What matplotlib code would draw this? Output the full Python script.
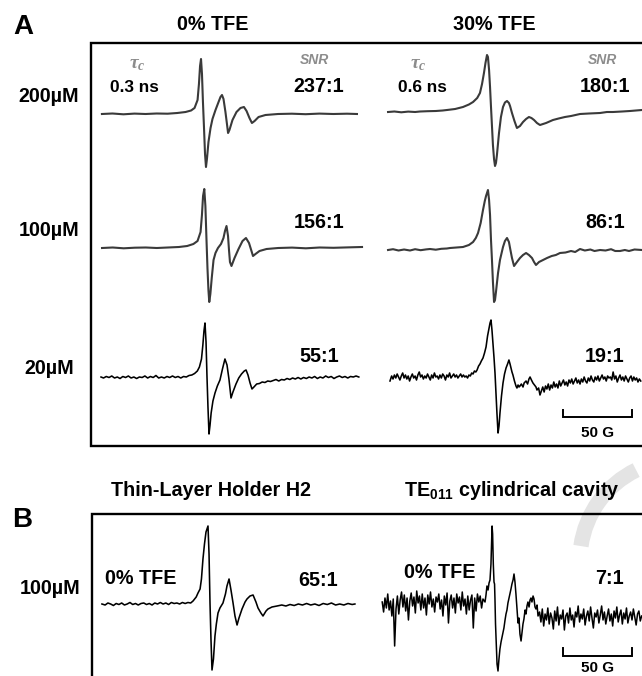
import matplotlib
matplotlib.use('Agg')
import matplotlib.pyplot as plt
from matplotlib.patches import Arc

# ---------------- data ----------------
CONC_A = ['200\u00b5M', '100\u00b5M', '20\u00b5M']
CONC_B = '100\u00b5M'
COL_A = ['0% TFE', '30% TFE']
COL_B = ['Thin-Layer Holder H2', r'TE$_{011}$ cylindrical cavity']
TAU_C = ['0.3 ns', '0.6 ns']
SNR_0 = ['237:1', '156:1', '55:1']
SNR_30 = ['180:1', '86:1', '19:1']
SNR_B = ['65:1', '7:1']
SCALE_G = 50  # Gauss

# traces: (field offset from centre line in G, signal in a.u.)
A1 = [(-73.6, 0), (-66, 0.5), (-58, -0.3), (-50, 0.4), (-42, 0), (-34, 0.5), (-26, 0.3), (-19, 1), (-13, 2),
      (-9, 3.5), (-6.5, 6), (-4.3, 14), (-3.3, 30), (-2.5, 48), (-1.8, 55), (-1.1, 40), (-0.4, 12), (0.4, -15),
      (1.1, -40), (1.8, -53), (2.5, -45), (3.6, -28), (5.1, -14), (6.5, -5), (8.7, 4), (10.9, 12), (12.3, 17),
      (13.4, 19), (14.5, 15), (15.9, 2), (17.0, -10), (17.8, -19), (18.8, -16), (21.0, -6), (23.9, 2), (26.8, 6),
      (29.3, 7), (31.2, 3), (33.3, -4), (35.1, -9), (37.0, -7), (39.9, -3), (44.9, -1), (54, 0), (64, 0.3),
      (74, -0.2), (84, 0.4), (94, 0), (104, 0.3), (111.2, 0)]
A2 = [(-75.7, 0), (-68, 0.5), (-60, -0.3), (-52, 0.3), (-44, 0.5), (-36, 0), (-28, 0.5), (-20, 1), (-14, 2),
      (-9.5, 4), (-6.5, 7), (-4.3, 16), (-3.3, 33), (-2.5, 52), (-1.6, 59), (-0.8, 42), (0, 8), (0.7, -20),
      (1.4, -42), (2.0, -54), (2.8, -46), (3.8, -30), (5.1, -12), (6.5, -5), (8.3, 0), (10.5, 4), (12.3, 10),
      (13.4, 17), (14.5, 22), (15.6, 12), (16.3, -2), (17.0, -14), (18.1, -18), (20.3, -10), (23.2, -1),
      (26.1, 7), (28.6, 10), (30.8, 5), (32.6, -3), (33.7, -8), (35.5, -6), (38.4, -3), (43.5, -1), (52, 0),
      (62, 0.4), (72, -0.3), (82, 0.5), (92, 0.2), (102, 0.6), (112.7, 1)]
A3 = [(-76.8, 0), (-75, -1), (-73, 0.5), (-71, -0.5), (-69, 1), (-67, -1), (-65, 0), (-63, -1.5), (-61, 0.5),
      (-59, -0.5), (-57, 1), (-55, -1), (-53, 0), (-51, -1.5), (-49, 0), (-47, -0.5), (-45, 1), (-43, -1),
      (-41, 0.5), (-39, -0.5), (-37, 1.5), (-35, -1), (-33, 0), (-31, -1), (-29, 0.5), (-27, -0.5), (-25, 1),
      (-23, -0.5), (-21, 0.5), (-19, -1), (-17, 0.5), (-15, 0), (-13, 1.5), (-11, 2), (-9, 3.5), (-7, 6),
      (-5.5, 10), (-4, 18), (-3, 32), (-2.2, 46), (-1.45, 54), (-0.7, 35), (0, 0), (0.7, -30), (1.45, -57),
      (2.2, -48), (3, -36), (4.3, -24), (5.8, -16), (7.5, -9), (9.4, -3), (11.2, 8), (13.0, 18), (14.5, 12),
      (15.9, -2), (17.4, -21), (18.8, -15), (21, -7), (23, -1), (25, 3), (27, 6), (28.3, 7), (29.7, 2),
      (31.2, -6), (32.6, -12), (34, -10), (36, -7), (38, -6.5), (40, -5), (42, -5.5), (44, -4), (46, -4.5),
      (48, -3.5), (50, -2.5), (52, -4), (54, -2.5), (56, -3), (58, -1.5), (60, -2.5), (62, -1), (64, -2),
      (66, -0.5), (68, -2), (70, -0.5), (72, -1.5), (74, 0), (76, -1), (78, 0.5), (80, -1.5), (82, 0), (84, -1),
      (86, 1), (88, -0.5), (90, 0.5), (92, -1.5), (94, 0), (96, 1), (98, -0.5), (100, 0.5), (102, -1),
      (104, 0.5), (106, 0), (108, 1), (110, 0)]
A4 = [(-74.6, 0), (-70, 0.5), (-65, -0.3), (-60, 0.4), (-55, 0), (-51.4, 0.5), (-46, 0.8), (-40, 1), (-35, 1.5),
      (-31.9, 2), (-26, 3), (-20.3, 5), (-16, 7.5), (-13.0, 10), (-10, 14), (-8.0, 19), (-6.5, 28), (-5.1, 39),
      (-4, 49), (-2.9, 57), (-2.2, 55), (-1.4, 42), (-0.7, 25), (0, 5), (0.7, -14), (1.4, -33), (2.2, -47),
      (2.9, -54), (3.6, -51), (4.3, -43), (5.8, -21), (7.2, -5), (8.7, 5), (10.1, 9.5), (11.6, 11), (13.0, 9),
      (13.8, 6), (15.2, -1), (17, -9), (18.8, -16), (21.0, -14), (23.2, -10), (25.4, -7), (27.5, -5),
      (29.3, -6), (31.2, -8), (33.3, -11), (35.5, -13), (37.7, -12), (39.9, -11), (44.9, -8), (49, -6.5),
      (53.6, -5), (58, -4), (64.5, -2), (71, -1.5), (79.0, -1), (84, 0), (88.4, 0), (95, 0.5), (100.7, 1),
      (105, 1.5), (109.4, 2)]
A5 = [(-74.6, 0), (-71, 0.8), (-67, -0.5), (-63, 0.5), (-58.7, -0.5), (-55, 0.8), (-51, -0.2), (-47, 0.6),
      (-44.2, 1), (-40, 0.3), (-36, 1.2), (-32, 1.5), (-29.7, 2), (-25, 2.5), (-20.3, 3), (-16, 5), (-13.0, 8),
      (-11, 12), (-9.4, 17), (-7.5, 27), (-5.8, 40), (-4.5, 49), (-3.6, 54), (-2.2, 60), (-1.4, 50), (-0.7, 35),
      (0, 10), (0.7, -10), (1.4, -32), (2.2, -52), (2.9, -50), (3.6, -42), (5.1, -23), (6.5, -10), (8.7, 3),
      (10.1, 9), (11.6, 12), (13.0, 8), (13.8, 2), (15.2, -8), (16.7, -16), (18.8, -12), (21.0, -8), (23.2, -5),
      (25.4, -3), (27.5, -5), (29.7, -8), (31.2, -12), (32.6, -15), (34.8, -12), (37.7, -10), (40.6, -8),
      (44, -6), (47, -5), (50.0, -3), (54, -2.5), (58, -1), (61, -2), (64.5, 1), (68, -0.5), (72, 0.5), (75, -1),
      (79.0, 0), (83, -0.5), (87, 0.8), (90, -1), (93.5, -1), (97, 0), (100, -1), (104, 0.5), (109.4, 0)]
A6 = [(-73.2, -3), (-72, 2), (-71, -1), (-70, 3), (-69, 0), (-68, 4), (-67, 1), (-66, -2), (-65, 2), (-64, 5),
      (-63, 0), (-62, 3), (-61, -1), (-60, 2), (-59, -3), (-58, 1), (-57, 4), (-56, 0), (-55, 2), (-54, -2),
      (-53, 3), (-52, 6), (-51, 1), (-50, 3), (-49, -1), (-48, 2), (-47, 0), (-46, 4), (-45, 1), (-44, -2),
      (-43, 3), (-42, 0), (-41, 5), (-40, 1), (-39, 2), (-38, -1), (-37, 3), (-36, 0), (-35, 4), (-34, 2),
      (-33, -2), (-32, 3), (-31, 1), (-30, 5), (-29, 0), (-28, 2), (-27, 4), (-26, 1), (-25, 3), (-24, 0),
      (-23, 2), (-22, 4), (-21, 1), (-20, 3), (-19, 1), (-18, 2), (-17, 0), (-16, 3), (-15, 2), (-14, 5),
      (-13, 4), (-12, 7), (-11, 6), (-10.1, 8), (-9, 12), (-8.0, 14), (-7, 17), (-5.8, 20), (-4.7, 25),
      (-3.6, 31), (-2.5, 42), (-1.4, 50), (-0.7, 55), (0, 58), (0.7, 48), (1.4, 35), (2.2, 20), (2.9, 5),
      (3.6, -15), (4.3, -35), (5.1, -55), (5.8, -48), (6.5, -35), (7.6, -18), (8.7, -5), (9.8, 4), (10.9, 10),
      (12, 14), (13.0, 18), (13.8, 14), (14.5, 10), (15.2, 6), (15.9, 3), (17, -3), (18.1, -8), (18.8, -10),
      (19.6, -7), (20.3, -9), (21.0, -8), (22, -6), (23.2, -9), (24, -5), (25.4, -3), (26.5, -6), (27.5, -1),
      (28.3, 1), (29.3, -2), (30.4, -5), (31.5, -7), (32.6, -9), (33.3, -12), (34.5, -10), (35.5, -17),
      (36.5, -13), (37.5, -9), (38.5, -14), (39.5, -8), (40.5, -11), (41.5, -6), (42.5, -12), (43.5, -7),
      (44.5, -10), (45.5, -4), (46.5, -9), (47.5, -6), (48.5, -10), (49.5, -3), (50.5, -8), (51.5, -5),
      (52.5, -2), (53.5, -7), (54.5, -4), (55.5, -8), (56.5, -2), (57.5, -5), (58.5, -1), (59.5, -6),
      (60.5, -3), (61.5, 0), (62.5, -5), (63.5, -2), (64.5, -6), (65.5, -1), (66.5, -4), (67.5, 1), (68.5, -3),
      (69.5, -5), (70.5, 0), (71.5, -3), (72.5, 2), (73.5, -2), (74.5, -4), (75.5, 1), (76.5, -2), (77.5, 2),
      (78.5, -3), (79.5, 0), (80.5, 3), (81.5, -1), (82.5, 1), (83.5, -3), (84.5, 2), (85.5, 0), (86.5, 1),
      (87.5, -2), (88.5, 6), (89.5, -1), (90.5, 2), (91.5, -4), (92.5, 0), (93.5, 3), (94.5, -2), (95.5, 1),
      (96.5, -3), (97.5, 2), (98.5, -1), (99.5, -4), (100.5, 0), (101.5, 2), (102.5, -3), (103.5, 1),
      (104.5, -2), (105.5, 0), (106.5, -4), (107.5, -1), (108.5, -3)]
B1 = [(-78.3, 0), (-76, -1), (-74, 1), (-72, 0), (-70, -1.5), (-68, 0.5), (-66, -0.5), (-64, 1), (-62, -1),
      (-60, 0), (-58, 1.5), (-56, -0.5), (-54, 0.5), (-52, -1), (-50, 0.5), (-48, 1), (-46, -0.5), (-44, 0.5),
      (-42, -1), (-40, 1), (-38, 0), (-36, 1.5), (-34, 0), (-32, 1), (-30, -0.5), (-28, 1.5), (-26, 0.5),
      (-24, 1), (-22, 0), (-20, 1.5), (-18, 0.5), (-16, 1.5), (-14, 1), (-12.3, 3), (-10, 7), (-8.7, 11),
      (-7.2, 15), (-6.2, 25), (-5.1, 45), (-4, 60), (-2.9, 72), (-1.45, 78), (-0.7, 50), (0, 1), (0.7, -35),
      (1.45, -66), (2.5, -55), (3.6, -32), (4.6, -20), (5.8, -9), (7.2, -4), (9.4, 1), (11.2, 10), (12.3, 18),
      (13.8, 25), (15.2, 14), (16.7, 1), (18.1, -12), (19.6, -21), (21, -14), (23.2, -5), (25.4, 2), (26.8, 5),
      (29, 8), (31.2, 9), (33.3, 2), (34.8, -4), (36.9, -9), (38.4, -12), (40.6, -7), (42, -5), (44.9, -3),
      (48.6, -2), (52, -1), (55, -2), (58, -0.5), (61, -1.5), (64, 0), (67, -1), (70, 0.5), (73, -1), (76, 0),
      (79, -1.5), (82, 0.5), (85, -0.5), (88, 1), (91, -1), (94, 0), (97, -1), (100, 0.5), (103, -0.5),
      (105, 0)]
B2 = [(-81, 2), (-80, -8), (-79, 6), (-78, -4), (-77, 10), (-76, -6), (-75, 3), (-74, -12), (-73, 5),
      (-72, -42), (-71, -5), (-70, 8), (-69, -10), (-68, 4), (-67, 12), (-66, -3), (-65, 9), (-64, -7),
      (-63, 6), (-62, -16), (-61, 3), (-60, 11), (-59, -2), (-58, 7), (-57, -9), (-56, 13), (-55, 1), (-54, 8),
      (-53, -6), (-52, 10), (-51, -4), (-50, 6), (-49, -11), (-48, 9), (-47, 0), (-46, 12), (-45, -3),
      (-44, 5), (-43, -8), (-42, 7), (-41, 2), (-40, 10), (-39, -5), (-38, 4), (-37, -12), (-36, 8), (-35, -1),
      (-34, 11), (-33, -19), (-32, 3), (-31, 9), (-30, -4), (-29, 6), (-28, -9), (-27, 10), (-26, 1), (-25, 7),
      (-24, -6), (-23, 12), (-22, -2), (-21, 5), (-20, -10), (-19, 8), (-18, -6), (-17, 4), (-16, 9),
      (-15, -24), (-14, 6), (-13, -7), (-12, 10), (-11, 2), (-10, 8), (-9, -4), (-8, 5), (-7, 3), (-6.5, 2),
      (-5.8, 9), (-5.1, 18), (-4.3, 14), (-3.6, 21), (-2.9, 24), (-2.2, 40), (-1.8, 60), (-1.4, 78),
      (-1.0, 70), (-0.5, 40), (0, 22), (0.4, 20), (0.7, 5), (1.1, -20), (1.8, -45), (2.2, -60), (2.9, -67),
      (3.6, -55), (4.3, -45), (5.1, -38), (6.5, -29), (7.2, -24), (8.0, -16), (8.7, -10), (9.4, -6),
      (10.1, 1), (10.9, 6), (11.6, 10), (12.3, 15), (13.0, 20), (13.8, 24), (14.5, 30), (15.2, 22), (15.9, 10),
      (16.7, -6), (17.4, -19), (18.1, -14), (18.8, -30), (19.6, -37), (20.3, -28), (21.0, -20), (21.7, -15),
      (22.5, -6), (23.2, -10), (23.9, -2), (24.6, 2), (25.4, -3), (26.1, 4), (26.8, 6), (27.5, 2), (28.3, 8),
      (29.0, 5), (29.7, -3), (30.4, -5), (31.2, -1), (31.9, -12), (33, -8), (34, -18), (35, -5), (36, -22),
      (37, -10), (38, -16), (39, -4), (40, -20), (41, -9), (42, -14), (43, -25), (44, -7), (45, -17), (46, -3),
      (47, -21), (48, -11), (49, -15), (50, -6), (51, -26), (52, -12), (53, -9), (54, -19), (55, -4), (56, -16),
      (57, -11), (58, -23), (59, -8), (60, -13), (61, -2), (62, -18), (63, -10), (64, -15), (65, -5), (66, -21),
      (67, -12), (68, -7), (69, -17), (70, -3), (71, -14), (72, -24), (73, -9), (74, -13), (75, -6), (76, -19),
      (77, -11), (78, -2), (79, -16), (80, -8), (81, -20), (82, -12), (83, -5), (84, -17), (85, -10), (86, -22),
      (87, -7), (88, -14), (89, -3), (90, -18), (91, -11), (92, -6), (93, -20), (94, -9), (95, -15), (96, -4),
      (97, -19), (98, -12), (99, -8), (100, -16), (101, -5), (102, -13), (103, -21), (104, -10), (105, -7),
      (106, -17), (107, -12)]

# ---------------- layout (pixels) ----------------
W, H, DPI = 642, 676, 100
PX_PER_G = 1.38          # horizontal scale: pixels per Gauss
PX_PER_AU = 1.0          # vertical scale: pixels per signal unit
GRAY = '#3a3a3a'
LABEL_GRAY = '#8c8c8c'

plt.rcParams['font.family'] = ['Liberation Sans', 'DejaVu Sans']
plt.rcParams['font.weight'] = 'bold'
plt.rcParams['mathtext.fontset'] = 'custom'
plt.rcParams['mathtext.rm'] = 'Liberation Sans:bold'
plt.rcParams['mathtext.bf'] = 'Liberation Sans:bold'
plt.rcParams['mathtext.it'] = 'Liberation Serif:italic'

fig = plt.figure(figsize=(W / DPI, H / DPI), dpi=DPI)
fig.patch.set_facecolor('white')
canvas = fig.add_axes([0, 0, 1, 1])
canvas.set_xlim(0, W)
canvas.set_ylim(H, 0)
canvas.axis('off')

# faint watermark arc (lower right)
canvas.add_patch(Arc((680, 560), 200, 200, theta1=188, theta2=244, color='#e4e4e4', lw=11, zorder=0))

# panel frames
FR_LW = 1.7
canvas.plot([W + 10, 91, 91, W + 10], [43, 43, 446, 446], color='black', lw=FR_LW, solid_joinstyle='miter',
            zorder=3, clip_on=False)
canvas.plot([W + 10, 92, 92], [514, 514, H + 10], color='black', lw=FR_LW, solid_joinstyle='miter',
            zorder=3, clip_on=False)

G_MIN, G_MAX, AU_MIN, AU_MAX = -95, 125, -100, 100


def trace_axes(cx, by):
    left = cx + G_MIN * PX_PER_G
    width = (G_MAX - G_MIN) * PX_PER_G
    bottom = H - by + AU_MIN * PX_PER_AU
    height = (AU_MAX - AU_MIN) * PX_PER_AU
    ax = fig.add_axes([left / W, bottom / H, width / W, height / H])
    ax.set_xlim(G_MIN, G_MAX)
    ax.set_ylim(AU_MIN, AU_MAX)
    ax.axis('off')
    ax.patch.set_alpha(0)
    return ax


def draw(trace, cx, by, color, lw):
    ax = trace_axes(cx, by)
    x, y = zip(*trace)
    ax.plot(x, y, color=color, lw=lw, solid_joinstyle='round', clip_on=False)
    return ax


draw(A1, 203.5, 114, GRAY, 1.5)
draw(A2, 206.5, 248, GRAY, 1.5)
draw(A3, 207, 377, 'black', 1.15)
draw(A4, 491, 112, GRAY, 1.5)
draw(A5, 491, 250, GRAY, 1.5)
ax6 = draw(A6, 491, 378, 'black', 1.15)
draw(B1, 210, 604, 'black', 1.15)
axb2 = draw(B2, 494, 604, 'black', 1.1)


def scale_bar(ax, cx, by, x0_px, ybar_px, ytick_px, label_dy):
    g0 = (x0_px - cx) / PX_PER_G
    yb = (by - ybar_px) / PX_PER_AU
    yt = (by - ytick_px) / PX_PER_AU
    ax.plot([g0, g0, g0 + SCALE_G, g0 + SCALE_G], [yt, yb, yb, yt], color='black', lw=1.4,
            solid_joinstyle='miter', clip_on=False)
    canvas.text(x0_px + SCALE_G * PX_PER_G / 2, ybar_px + label_dy, f'{SCALE_G} G', ha='center', va='center',
                fontsize=11, fontweight='bold')


scale_bar(ax6, 491, 378, 563, 417, 410, 16)
scale_bar(axb2, 494, 604, 563, 656, 648, 12.5)

# ---------------- texts ----------------
BIG = 14.2
canvas.text(23, 27, 'A', fontsize=20, fontweight='bold', ha='center', va='center')
canvas.text(22, 520, 'B', fontsize=20, fontweight='bold', ha='center', va='center')
for cx, t in zip([213, 494], COL_A):
    canvas.text(cx, 24, t, fontsize=BIG, ha='center', va='center')
for cx, t in zip([211, 512], COL_B):
    canvas.text(cx, 491, t, fontsize=BIG, ha='center', va='center')
for cy, t in zip([96, 230, 368], CONC_A):
    canvas.text(49, cy, t, fontsize=BIG, ha='center', va='center')
canvas.text(50.5, 589, CONC_B, fontsize=BIG, ha='center', va='center')

for cx, t in zip([134, 422], TAU_C):
    canvas.text(cx, 88, t, fontsize=12.4, ha='center', va='center')
for cx in [137, 418]:
    canvas.text(cx, 65, r'$\tau_c$', fontsize=14, color=LABEL_GRAY, ha='center', va='center')
for cx in [314, 602]:
    canvas.text(cx, 60, 'SNR', fontsize=10, color=LABEL_GRAY, style='italic', fontweight='bold',
                ha='center', va='center')
for cy, a, b in zip([86, 223, 357], SNR_0, SNR_30):
    canvas.text(319, cy, a, fontsize=BIG, ha='center', va='center')
    canvas.text(605, cy, b, fontsize=BIG, ha='center', va='center')
canvas.text(318.5, 580, SNR_B[0], fontsize=BIG, ha='center', va='center')
canvas.text(609.5, 579, SNR_B[1], fontsize=BIG, ha='center', va='center')
canvas.text(141, 578, '0% TFE', fontsize=BIG, ha='center', va='center')
canvas.text(440, 573, '0% TFE', fontsize=BIG, ha='center', va='center')

fig.savefig('out.png', dpi=DPI)
